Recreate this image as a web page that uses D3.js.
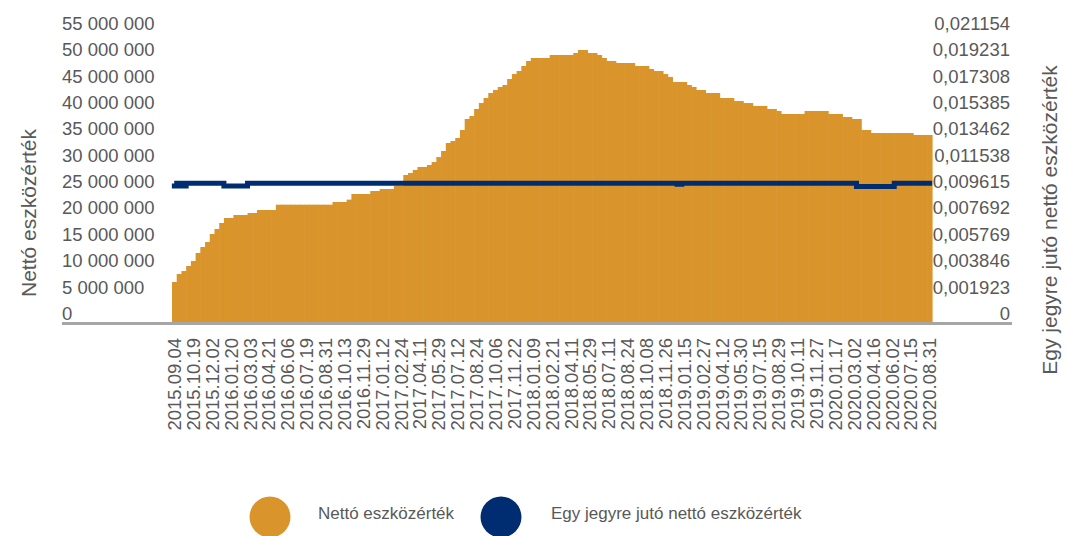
<!DOCTYPE html>
<html>
<head>
<meta charset="utf-8">
<script src="https://cdn.jsdelivr.net/npm/d3@7"></script>
<style>
  html, body { margin: 0; padding: 0; background: #ffffff; }
  svg { display: block; font-family: "Liberation Sans", Arial, Helvetica, sans-serif; }
</style>
</head>
<body>
<svg id="chart" width="1068" height="536"></svg>
<script>
// ---- data ----
const tickLabels = [
  "2015.09.04","2015.10.19","2015.12.02","2016.01.20","2016.03.03","2016.04.21","2016.06.06",
  "2016.07.19","2016.08.31","2016.10.13","2016.11.29","2017.01.12","2017.02.24","2017.04.11",
  "2017.05.29","2017.07.12","2017.08.24","2017.10.06","2017.11.22","2018.01.09","2018.02.21",
  "2018.04.11","2018.05.29","2018.07.11","2018.08.24","2018.10.08","2018.11.26","2019.01.15",
  "2019.02.27","2019.04.12","2019.05.30","2019.07.15","2019.08.29","2019.10.11","2019.11.27",
  "2020.01.17","2020.03.02","2020.04.16","2020.06.02","2020.07.15","2020.08.31"
];
const pointsPerLabel = 4;

const netAssets = [
  7780000, 9290000, 9860000, 10810000, 11760000, 13280000, 14410000, 15360000,
  16880000, 17830000, 18970000, 19910000, 19910000, 20480000, 20480000, 20480000,
  20860000, 20860000, 21430000, 21430000, 21430000, 21430000, 22440000, 22440000,
  22440000, 22440000, 22440000, 22440000, 22440000, 22440000, 22440000, 22440000,
  22440000, 22440000, 22950000, 22950000, 22950000, 23400000, 24470000, 24470000,
  24470000, 24470000, 25030000, 25030000, 25410000, 25410000, 25410000, 26040000,
  26040000, 28070000, 28450000, 29020000, 29590000, 29590000, 29970000, 30530000,
  31480000, 32620000, 34140000, 34520000, 35090000, 36600000, 38690000, 39260000,
  40590000, 41720000, 42670000, 43620000, 44190000, 44760000, 45140000, 46280000,
  47220000, 47790000, 48740000, 49690000, 50260000, 50260000, 50260000, 50260000,
  50830000, 50830000, 50830000, 50830000, 50830000, 51210000, 51780000, 51780000,
  51210000, 51210000, 50830000, 50260000, 49690000, 49690000, 49310000, 49310000,
  49310000, 49310000, 48740000, 48740000, 48740000, 48170000, 47790000, 47790000,
  47220000, 46660000, 45710000, 45710000, 45710000, 45140000, 44760000, 44190000,
  44190000, 43620000, 43620000, 43620000, 42670000, 42670000, 42670000, 42100000,
  42100000, 41720000, 41720000, 41160000, 41160000, 41160000, 40590000, 40590000,
  40210000, 39640000, 39640000, 39640000, 39640000, 39640000, 40210000, 40210000,
  40210000, 40210000, 40210000, 39640000, 39640000, 39640000, 39070000, 39070000,
  38690000, 38690000, 36600000, 36600000, 36030000, 36030000, 36030000, 36030000,
  36030000, 36030000, 36030000, 36030000, 36030000, 35660000, 35660000, 35660000,
  35660000
];

const unitValue = [
  0.00999, 0.01019, 0.00999, 0.01019, 0.01019, 0.01019, 0.01019, 0.01019,
  0.01019, 0.01019, 0.01019, 0.00999, 0.00999, 0.00999, 0.00999, 0.00999,
  0.01019, 0.01019, 0.01019, 0.01019, 0.01019, 0.01019, 0.01019, 0.01019,
  0.01019, 0.01019, 0.01019, 0.01019, 0.01019, 0.01019, 0.01019, 0.01019,
  0.01019, 0.01019, 0.01019, 0.01019, 0.01019, 0.01019, 0.01019, 0.01019,
  0.01019, 0.01019, 0.01019, 0.01019, 0.01019, 0.01019, 0.01019, 0.01019,
  0.01019, 0.01019, 0.01019, 0.01019, 0.01019, 0.01019, 0.01019, 0.01019,
  0.01019, 0.01019, 0.01019, 0.01019, 0.01019, 0.01019, 0.01019, 0.01019,
  0.01019, 0.01019, 0.01019, 0.01019, 0.01019, 0.01019, 0.01019, 0.01019,
  0.01019, 0.01019, 0.01019, 0.01019, 0.01019, 0.01019, 0.01019, 0.01019,
  0.01019, 0.01019, 0.01019, 0.01019, 0.01019, 0.01019, 0.01019, 0.01019,
  0.01019, 0.01019, 0.01019, 0.01019, 0.01019, 0.01019, 0.01019, 0.01019,
  0.01019, 0.01019, 0.01019, 0.01019, 0.01019, 0.01019, 0.01019, 0.01019,
  0.01019, 0.01019, 0.01019, 0.01012, 0.01019, 0.01019, 0.01019, 0.01019,
  0.01019, 0.01019, 0.01019, 0.01019, 0.01019, 0.01019, 0.01019, 0.01019,
  0.01019, 0.01019, 0.01019, 0.01019, 0.01019, 0.01019, 0.01019, 0.01019,
  0.01019, 0.01019, 0.01019, 0.01019, 0.01019, 0.01019, 0.01019, 0.01019,
  0.01019, 0.01019, 0.01019, 0.01019, 0.01019, 0.01019, 0.01019, 0.01019,
  0.01019, 0.00995, 0.00995, 0.00995, 0.00995, 0.00995, 0.00995, 0.00995,
  0.00995, 0.01019, 0.01019, 0.01019, 0.01019, 0.01019, 0.01019, 0.01019,
  0.01019
];

const leftTicks = [0, 5000000, 10000000, 15000000, 20000000, 25000000, 30000000,
                   35000000, 40000000, 45000000, 50000000, 55000000];
const rightTickLabels = ["0","0,001923","0,003846","0,005769","0,007692","0,009615",
                         "0,011538","0,013462","0,015385","0,017308","0,019231","0,021154"];
const seriesNames = ["Nettó eszközérték", "Egy jegyre jutó nettó eszközérték"];
const leftTitle = "Nettó eszközérték";
const rightTitle = "Egy jegyre jutó nettó eszközérték";

// ---- styling ----
const ORANGE = "#D9952B";
const BLUE = "#002D72";
const TEXT = "#595959";
const AXIS_GREY = "#A6A6A6";
const FONT_TICK = 18.5;

const svg = d3.select("#chart");
const plotLeft = 172, plotRight = 932, plotBottom = 323, plotTop = 33;

const x = d3.scaleBand()
  .domain(d3.range(netAssets.length))
  .range([plotLeft, plotRight])
  .paddingInner(0).paddingOuter(0);

const y = d3.scaleLinear().domain([0, 55000000]).range([plotBottom, plotTop]);
const rightValues = rightTickLabels.map(s => +s.replace(",", "."));
const y2 = d3.scaleLinear().domain([0, rightValues[rightValues.length - 1]]).range([plotBottom, plotTop]);

// bars
svg.append("g").selectAll("rect")
  .data(netAssets)
  .join("rect")
  .attr("x", (d, i) => x(i))
  .attr("width", x.bandwidth() + 0.6)
  .attr("y", d => y(d))
  .attr("height", d => y(0) - y(d))
  .attr("fill", ORANGE);

// baseline
svg.append("line")
  .attr("x1", 62).attr("x2", 1012)
  .attr("y1", plotBottom + 0.5).attr("y2", plotBottom + 0.5)
  .attr("stroke", AXIS_GREY).attr("stroke-width", 3);

// unit value line
const line = d3.line()
  .x((d, i) => x(i) + x.bandwidth() / 2)
  .y(d => y2(d))
  .curve(d3.curveStep);
svg.append("path")
  .datum(unitValue)
  .attr("d", line)
  .attr("fill", "none")
  .attr("stroke", BLUE)
  .attr("stroke-width", 5)
  .attr("stroke-linecap", "square");

// left axis (labels left-aligned at x=62, sitting above the value)
const fmt = d3.formatLocale({decimal: ",", thousands: " ", grouping: [3], currency: ["", ""]}).format(",d");
const gL = svg.append("g")
  .attr("transform", "translate(62,0)")
  .call(d3.axisRight(y).tickValues(leftTicks).tickFormat(fmt).tickSize(0).tickPadding(0));
gL.select(".domain").remove();
gL.selectAll("text")
  .attr("y", -9.5)
  .attr("font-size", FONT_TICK)
  .attr("font-family", "Liberation Sans, Arial, sans-serif")
  .attr("fill", TEXT);

// right axis
const gR = svg.append("g")
  .attr("transform", "translate(1010,0)")
  .call(d3.axisLeft(y2).tickValues(rightValues).tickFormat((d, i) => rightTickLabels[i]).tickSize(0).tickPadding(0));
gR.select(".domain").remove();
gR.selectAll("text")
  .attr("y", -9.5)
  .attr("font-size", FONT_TICK)
  .attr("font-family", "Liberation Sans, Arial, sans-serif")
  .attr("fill", TEXT);

// bottom axis
const tickIdx = tickLabels.map((d, i) => i * pointsPerLabel);
const gB = svg.append("g")
  .attr("transform", `translate(0,${plotBottom})`)
  .call(d3.axisBottom(x).tickValues(tickIdx).tickFormat(i => tickLabels[i / pointsPerLabel]).tickSize(0).tickPadding(0));
gB.select(".domain").remove();
gB.selectAll("text")
  .attr("transform", "rotate(-90)")
  .attr("text-anchor", "end")
  .attr("x", -15)
  .attr("y", 0)
  .attr("dy", "0.36em")
  .attr("font-size", FONT_TICK)
  .attr("font-family", "Liberation Sans, Arial, sans-serif")
  .attr("fill", TEXT);

// axis titles
svg.append("text")
  .attr("transform", "translate(36,213) rotate(-90)")
  .attr("text-anchor", "middle")
  .attr("font-size", 21)
  .attr("fill", TEXT)
  .text(leftTitle);
svg.append("text")
  .attr("transform", "translate(1057,220) rotate(-90)")
  .attr("text-anchor", "middle")
  .attr("font-size", 21)
  .attr("fill", TEXT)
  .text(rightTitle);

// legend
const legend = [
  {name: seriesNames[0], color: ORANGE, cx: 270, tx: 318},
  {name: seriesNames[1], color: BLUE, cx: 501, tx: 551}
];
const lg = svg.append("g");
lg.selectAll("circle").data(legend).join("circle")
  .attr("cx", d => d.cx).attr("cy", 517).attr("r", 20.5)
  .attr("fill", d => d.color);
lg.selectAll("text").data(legend).join("text")
  .attr("x", d => d.tx).attr("y", 519)
  .attr("font-size", 17)
  .attr("fill", TEXT)
  .text(d => d.name);
</script>
</body>
</html>
